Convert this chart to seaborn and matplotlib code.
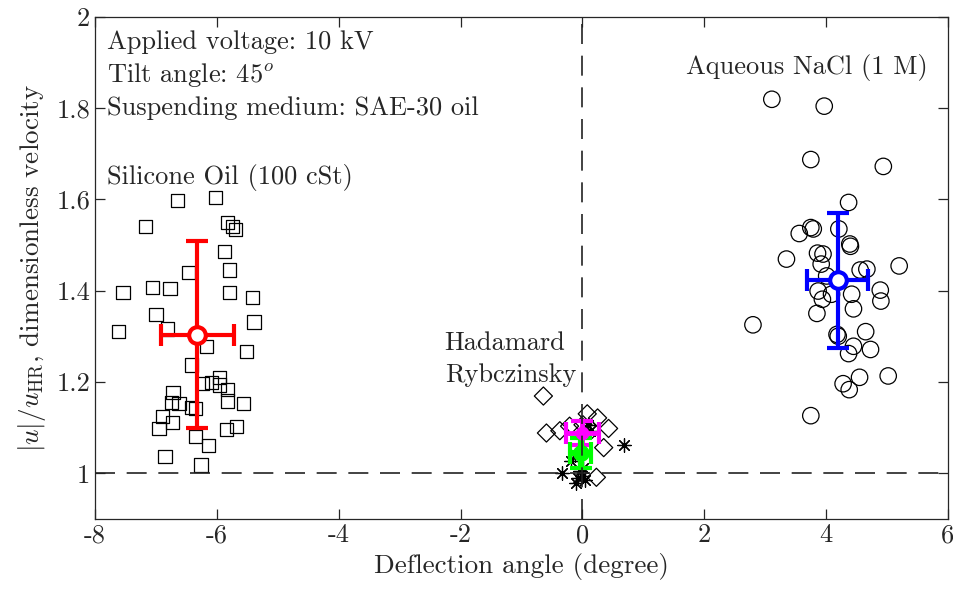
import numpy as np
import pandas as pd
import matplotlib
matplotlib.use('Agg')
import matplotlib.pyplot as plt
import seaborn as sns

# DATA ---------------------------------------------------------------------------
# silicone oil drops (squares)
silicone_x = [-6.65, -6.02, -7.17, -5.83, -5.74, -5.69, -5.87, -6.46, -5.79, -7.54,
              -7.06, -6.77, -5.79, -5.42, -7.00, -5.39, -7.62, -6.81, -6.17, -5.51,
              -6.42, -6.23, -6.09, -5.96, -5.95, -5.82, -6.72, -6.62, -6.75, -6.41,
              -6.35, -5.83, -5.56, -6.89, -6.73, -6.95, -5.84, -5.68, -6.35, -6.14,
              -6.85, -6.26]
silicone_y = [1.597, 1.603, 1.541, 1.549, 1.541, 1.533, 1.486, 1.439, 1.445, 1.396,
              1.407, 1.404, 1.396, 1.385, 1.348, 1.331, 1.310, 1.316, 1.277, 1.267,
              1.237, 1.196, 1.199, 1.209, 1.193, 1.184, 1.176, 1.152, 1.155, 1.143,
              1.141, 1.158, 1.153, 1.125, 1.111, 1.098, 1.095, 1.103, 1.081, 1.061,
              1.037, 1.018]
silicone_mean = (-6.32, 1.303)
silicone_err = (0.60, 0.205)

# aqueous NaCl drops (circles)
nacl_x = [3.11, 3.97, 3.75, 4.94, 4.37, 3.56, 3.75, 3.79, 4.21, 4.39,
          4.40, 3.35, 3.86, 3.95, 3.92, 4.56, 4.67, 5.20, 4.01, 3.87,
          3.94, 4.09, 4.42, 4.89, 4.90, 4.45, 3.85, 2.80, 4.18, 4.20,
          4.65, 4.45, 4.37, 4.73, 5.02, 4.55, 4.28, 4.38, 3.75]
nacl_y = [1.819, 1.804, 1.687, 1.672, 1.593, 1.525, 1.538, 1.535, 1.535, 1.502,
          1.497, 1.469, 1.482, 1.480, 1.458, 1.445, 1.447, 1.454, 1.432, 1.399,
          1.381, 1.392, 1.392, 1.401, 1.377, 1.360, 1.350, 1.325, 1.304, 1.300,
          1.310, 1.278, 1.262, 1.271, 1.213, 1.210, 1.196, 1.183, 1.126]
nacl_mean = (4.19, 1.423)
nacl_err = (0.50, 0.148)

# Hadamard-Rybczinsky reference drops (diamonds)
hr_x = [-0.64, -0.59, -0.37, -0.21, 0.08, 0.25, 0.43, 0.35, 0.23, 0.01, 0.15]
hr_y = [1.169, 1.088, 1.093, 1.103, 1.130, 1.121, 1.098, 1.056, 0.991, 1.106, 1.095]
hr_mean = (0.0, 1.088)
hr_err = (0.27, 0.026)

# asterisks
ast_x = [0.68, -0.33, 0.12, -0.04, -0.07, -0.01, -0.18, 0.01, -0.10, 0.05, 0.10, -0.12]
ast_y = [1.062, 1.000, 1.092, 1.004, 0.989, 0.993, 1.026, 1.011, 0.978, 0.985, 1.105, 1.040]
ast_mean = (-0.03, 1.044)
ast_err = (0.17, 0.033)

xticks = [-8, -6, -4, -2, 0, 2, 4, 6]
xticklabels = ['-8', '-6', '-4', '-2', '0', '2', '4', '6']
yticks = [1, 1.2, 1.4, 1.6, 1.8, 2]
yticklabels = ['1', '1.2', '1.4', '1.6', '1.8', '2']
# END DATA -----------------------------------------------------------------------


sns.set_style('ticks')
plt.rcParams['font.family'] = 'serif'
plt.rcParams['font.serif'] = ['cmr10']
plt.rcParams['mathtext.fontset'] = 'cm'
plt.rcParams['axes.unicode_minus'] = False

fig = plt.figure(figsize=(9.54, 5.95), dpi=100)
ax = fig.add_axes([0.0996, 0.128, 0.894, 0.844])

# scatter clouds
sns.scatterplot(x=silicone_x, y=silicone_y, marker='s', s=90, facecolors='none',
                edgecolor='black', linewidth=0.9, ax=ax, zorder=2)
sns.scatterplot(x=nacl_x, y=nacl_y, marker='o', s=140, facecolors='none',
                edgecolor='black', linewidth=0.9, ax=ax, zorder=2)
sns.scatterplot(x=hr_x, y=hr_y, marker='D', s=85, facecolors='none',
                edgecolor='black', linewidth=0.9, ax=ax, zorder=2)
sns.scatterplot(x=ast_x, y=ast_y, marker=(8, 2, 0), s=95, color='black',
                linewidth=0.9, ax=ax, zorder=2)

# means with error bars
def mean_bar(m, e, c, ms=12, mfc='white', lw=3):
    ax.errorbar(m[0], m[1], xerr=e[0], yerr=e[1], color=c, lw=lw, capsize=8,
                capthick=lw, marker='o', ms=ms, mfc=mfc, mec=c, mew=3, zorder=4)

mean_bar(silicone_mean, silicone_err, 'red')
mean_bar(nacl_mean, nacl_err, 'blue')
mean_bar(hr_mean, hr_err, 'magenta', ms=7, mfc='magenta', lw=3.5)
mean_bar(ast_mean, ast_err, '#00ff00', ms=9, mfc='#00ff00', lw=4.5)

# reference lines
ax.axhline(1, color='#222222', lw=1.2, ls=(0, (12, 7)), zorder=5)
ax.axvline(0, color='#222222', lw=1.2, ls=(0, (12, 7)), zorder=5)

ax.set_xlim(-8, 6)
ax.set_ylim(0.9, 2)
ax.set_xticks(xticks)
ax.set_xticklabels(xticklabels)
ax.set_yticks(yticks)
ax.set_yticklabels(yticklabels)
ax.tick_params(direction='in', top=True, right=True, labelsize=19, length=7, width=0.9)
for sp in ax.spines.values():
    sp.set_linewidth(0.9)

ax.set_xlabel('Deflection angle (degree)', fontsize=19.5)
ax.set_ylabel(r'$|u|/u_{\rm HR}$, dimensionless velocity', fontsize=19.5, labelpad=6)

# annotations
fs = 19
ax.text(0.014, 0.950, 'Applied voltage: 10 kV', transform=ax.transAxes, fontsize=fs, va='center')
ax.text(0.014, 0.884, r'Tilt angle: 45$^o$', transform=ax.transAxes, fontsize=fs, va='center')
ax.text(0.014, 0.818, 'Suspending medium: SAE-30 oil', transform=ax.transAxes, fontsize=fs, va='center')
ax.text(0.014, 0.679, 'Silicone Oil (100 cSt)', transform=ax.transAxes, fontsize=fs, va='center')
ax.text(0.693, 0.898, 'Aqueous NaCl (1 M)', transform=ax.transAxes, fontsize=fs, va='center')
ax.text(0.410, 0.350, 'Hadamard', transform=ax.transAxes, fontsize=fs, va='center')
ax.text(0.410, 0.287, 'Rybczinsky', transform=ax.transAxes, fontsize=fs, va='center')

plt.savefig('out.png', dpi=100)
